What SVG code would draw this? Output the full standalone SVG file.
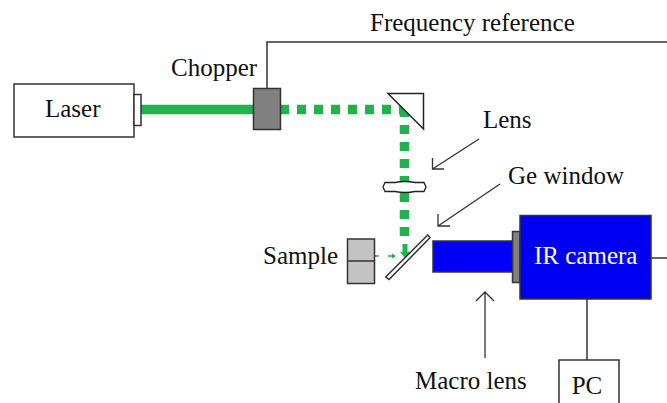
<svg xmlns="http://www.w3.org/2000/svg" width="667" height="403" viewBox="0 0 667 403">
<defs>
<style>
text{font-family:"Liberation Serif","Times New Roman",serif;font-size:25px;fill:#111}
.box{stroke:#333;stroke-width:1.5}
.wire{fill:none;stroke:#333;stroke-width:1.5}
.arrow{fill:none;stroke:#333;stroke-width:1.3}
.beam{fill:none;stroke:#22b14c}
</style>
</defs>
<rect width="667" height="403" fill="#fff"/>
<g id="connectors">
<path class="wire" d="M267 88V42H667"/>
<path class="wire" d="M651 258H667"/>
<path class="wire" d="M587 299V360"/>
<path class="beam" stroke-width="9.500" d="M141 109.500H254"/>
<path class="beam" stroke-width="9.500" stroke-dasharray="9 8" d="M280 109.500H392"/>
<path class="beam" stroke-width="9.500" d="M399 109.500H409"/>
<path class="beam" stroke-width="9.500" stroke-dasharray="9 8" d="M404.500 108V236"/>
<path class="beam" stroke-width="1.500" d="M375 256H379M388 256H392"/>
<path d="M392 253.500L396 256L392 258.500Z" fill="#22b14c"/>
<path class="beam" stroke-width="5" d="M405 244V254"/>
<path d="M400 252H410L405 258Z" fill="#22b14c"/>
<path class="arrow" d="M479 139L432.500 169M432.500 158V169H444"/>
<path class="arrow" d="M500 184L438 226M438 214V226H450"/>
<path class="arrow" d="M485 358V292M476 301L485 292L494 301"/>
</g>
<g id="laser"><rect class="box" x="14" y="84" width="120" height="53" fill="#fff"/><rect class="box" x="134" y="94.500" width="7" height="31" fill="#fff"/><text x="45" y="117">Laser</text></g>
<g id="chopper"><rect class="box" x="253.500" y="88.500" width="27" height="41" fill="#808080"/><text x="171" y="76">Chopper</text></g>
<g id="mirror"><path d="M388 93.500H423.500V129Z" fill="#fff" stroke="#222" stroke-width="1.500"/></g>
<g id="lens"><path d="M383 187L385 182.500H395Q405 180.500 415 182.500H424L426 187L424 191.500H415Q405 193.500 395 191.500H385Z" fill="#fff" stroke="#222" stroke-width="1.300"/><text x="483" y="128">Lens</text></g>
<g id="ge-window"><path d="M385.700 277L427.700 235L430 237.700L389 279.500Z" fill="#fff" class="box"/><text x="508" y="184">Ge window</text></g>
<g id="sample"><rect class="box" x="347.500" y="239" width="27" height="44.500" fill="#c3c3c3"/><path class="box" d="M347.500 261H374.500"/><text x="263" y="264">Sample</text></g>
<g id="macro-lens"><rect class="box" x="433" y="241" width="80" height="31" fill="#0000f5"/><rect class="box" x="512.500" y="231.500" width="7.500" height="51" fill="#808080"/><text x="415" y="389">Macro lens</text></g>
<g id="ir-camera"><rect class="box" x="520" y="215.500" width="131" height="83.500" fill="#0000f5"/><text x="534" y="264" style="fill:#fff">IR camera</text></g>
<g id="pc"><rect class="box" x="559" y="360" width="60" height="50" fill="#fff"/><text x="587" y="394" text-anchor="middle">PC</text></g>
<g id="freq"><text x="370" y="31">Frequency reference</text></g>
</svg>
